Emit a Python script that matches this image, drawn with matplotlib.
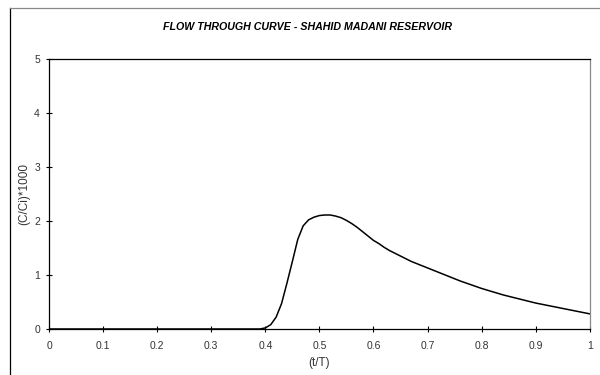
import matplotlib
matplotlib.use("Agg")
import matplotlib.pyplot as plt
from matplotlib.lines import Line2D

plt.rcParams["font.family"] = ["Liberation Sans", "DejaVu Sans"]

# flow through curve
t_ratio = [0.0, 0.38, 0.39, 0.40, 0.41, 0.42, 0.43, 0.44, 0.45, 0.46, 0.47,
           0.48, 0.49, 0.50, 0.51, 0.52, 0.53, 0.54, 0.55, 0.56, 0.57, 0.58,
           0.59, 0.60, 0.61, 0.62, 0.63, 0.64, 0.65, 0.66, 0.67, 0.68, 0.69,
           0.70, 0.72, 0.74, 0.76, 0.78, 0.80, 0.82, 0.84, 0.86, 0.88, 0.90,
           0.92, 0.94, 0.96, 0.98, 1.00]
conc = [0.0, 0.0, 0.0, 0.02, 0.08, 0.22, 0.47, 0.85, 1.25, 1.66, 1.91,
        2.02, 2.07, 2.10, 2.11, 2.11, 2.09, 2.06, 2.01, 1.95, 1.88, 1.80,
        1.72, 1.64, 1.58, 1.51, 1.45, 1.40, 1.35, 1.30, 1.25, 1.21, 1.17,
        1.13, 1.05, 0.97, 0.89, 0.82, 0.75, 0.69, 0.63, 0.58, 0.53, 0.48,
        0.44, 0.40, 0.36, 0.32, 0.28]

x_ticks = [0, 0.1, 0.2, 0.3, 0.4, 0.5, 0.6, 0.7, 0.8, 0.9, 1]
x_ticklabels = ["0", "0.1", "0.2", "0.3", "0.4", "0.5", "0.6", "0.7", "0.8", "0.9", "1"]
y_ticks = [0, 1, 2, 3, 4, 5]

fig = plt.figure(figsize=(6, 3.75), dpi=100)
ax = fig.add_axes([0.0817, 0.1227, 0.9013, 0.7203])

ax.plot(t_ratio, conc, color="black", linewidth=1.1)

ax.set_xlim(0, 1)
ax.set_ylim(0, 5)
ax.set_xticks(x_ticks)
ax.set_xticklabels(x_ticklabels)
ax.set_yticks(y_ticks)
ax.tick_params(direction="inout", length=5, width=0.8, labelsize=7.5,
               colors="black", labelcolor="#333333")
ax.tick_params(axis="x", pad=6)
ax.tick_params(axis="y", pad=4)

for side in ["left", "bottom", "top"]:
    ax.spines[side].set_color("black")
    ax.spines[side].set_linewidth(0.9)
ax.spines["right"].set_color("#888888")
ax.spines["right"].set_linewidth(0.9)

ax.set_xlabel("(t/T)", fontsize=8.5, color="#333333", va="center")
ax.set_ylabel("(C/Ci)*1000", fontsize=8.5, color="#333333", va="center")
ax.xaxis.set_label_coords(0.5, -0.126)
ax.yaxis.set_label_coords(-0.046, 0.5)

fig.text(0.512, 0.928, "FLOW THROUGH CURVE - SHAHID MADANI RESERVOIR",
         ha="center", va="center", fontsize=7.7, fontweight="bold",
         fontstyle="italic")

# outer chart frame
fig.add_artist(Line2D([0.017, 0.017], [0.0, 0.978], color="black", linewidth=0.9))
fig.add_artist(Line2D([0.017, 1.0], [0.978, 0.978], color="#888888", linewidth=0.9))

fig.savefig("out.png", dpi=100)
